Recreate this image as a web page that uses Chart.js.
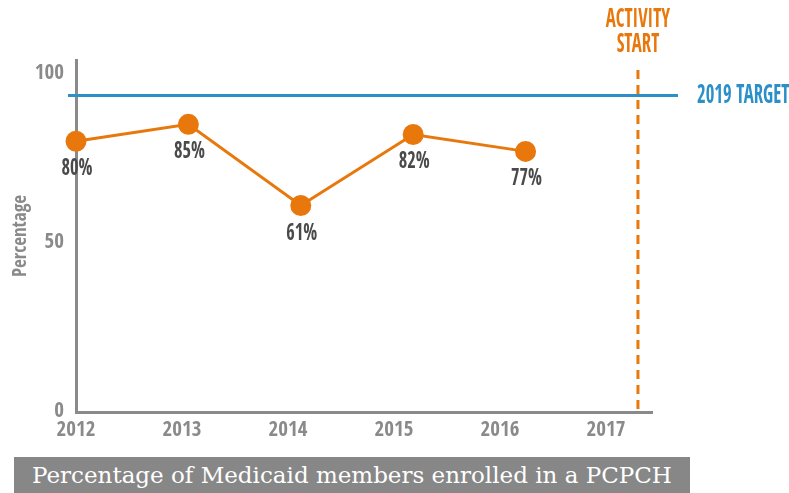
<!DOCTYPE html>
<html>
<head>
<meta charset="utf-8">
<script src="https://cdn.jsdelivr.net/npm/chart.js@4.4.1/dist/chart.umd.min.js"></script>
<style>
  body { margin: 0; background: #fff; width: 789px; height: 493px; position: relative; overflow: hidden; }
  #wrap { position: absolute; left: 0; top: 0; width: 789px; height: 450px; }
  #caption {
    position: absolute; left: 14px; top: 457px; width: 676px; height: 36px;
    background: #878787; color: #fff; text-align: center;
    font-family: "DejaVu Serif", "Liberation Serif", serif; font-size: 23px; line-height: 36px;
  }
</style>
</head>
<body>
<div id="wrap"><canvas id="myChart" width="789" height="450"></canvas></div>
<div id="caption">Percentage of Medicaid members enrolled in a PCPCH</div>
<script>
const years = [2012, 2013, 2014, 2015, 2016];
const enrolled = [80, 85, 61, 82, 77];
const tickYears = [2012, 2013, 2014, 2015, 2016, 2017];
const yTicks = [0, 50, 100];
const target = 93.5;
const activityYear = 2017;

const narrow = '"Open Sans Condensed", "Roboto Condensed", sans-serif';
const grey = "#8a8a8a";
const orange = "#e8770c";
const blue = "#2b8fc8";

// condensed-looking text: draw a bit taller then squeeze horizontally
function squeezed(ctx, text, x, y, size, sx, align) {
  ctx.save();
  ctx.font = "bold " + size + "px " + narrow;
  ctx.textAlign = align;
  ctx.textBaseline = "middle";
  ctx.translate(x, y);
  ctx.scale(sx, 1);
  ctx.fillText(text, 0, 0);
  ctx.restore();
}

const annotations = {
  id: "annotations",
  beforeDatasetsDraw(chart) {
    const { ctx, chartArea, scales } = chart;
    const ty = scales.y.getPixelForValue(target);
    ctx.save();
    ctx.strokeStyle = blue;
    ctx.lineWidth = 3;
    ctx.beginPath();
    ctx.moveTo(chartArea.left - 8, ty);
    ctx.lineTo(chartArea.right + 26, ty);
    ctx.stroke();
    ctx.fillStyle = blue;
    squeezed(ctx, "2019 TARGET", 697, ty + 1, 26, 0.72, "left");

    const ax = scales.x.getPixelForValue(activityYear);
    ctx.strokeStyle = orange;
    ctx.setLineDash([9, 6]);
    ctx.beginPath();
    ctx.moveTo(ax, 70);
    ctx.lineTo(ax, chartArea.bottom);
    ctx.stroke();
    ctx.setLineDash([]);
    ctx.fillStyle = orange;
    squeezed(ctx, "ACTIVITY", ax, 20, 26, 0.72, "center");
    squeezed(ctx, "START", ax, 45, 26, 0.72, "center");
    ctx.restore();
  },
  afterDatasetsDraw(chart) {
    const { ctx } = chart;
    const meta = chart.getDatasetMeta(0);
    ctx.save();
    ctx.fillStyle = "#4a4a4a";
    meta.data.forEach((pt, i) => {
      squeezed(ctx, enrolled[i] + "%", pt.x + 1, pt.y + 28, 23, 0.8, "center");
    });
    ctx.restore();
  },
};

const data = {
  datasets: [
    {
      data: years.map((yr, i) => ({ x: yr, y: enrolled[i] })),
      borderColor: orange,
      backgroundColor: orange,
      borderWidth: 3,
      pointRadius: 9,
      pointHoverRadius: 9,
      xAxisID: "x",
      clip: false,
    },
  ],
};

const config = {
  type: "line",
  data: data,
  options: {
    responsive: false,
    animation: false,
    devicePixelRatio: 1,
    layout: { padding: { top: 60, right: 137, left: 0, bottom: 0 } },
    plugins: {
      legend: { display: false },
      tooltip: { enabled: false },
    },
    scales: {
      x: {
        type: "linear",
        display: false,
        min: 2012,
        max: 2017.125,
      },
      x2: {
        type: "linear",
        position: "bottom",
        min: 2012,
        max: 2017.434,
        afterBuildTicks: (s) => { s.ticks = tickYears.map((v) => ({ value: v })); },
        afterFit: (s) => { s.height = 38; },
        grid: { display: false, drawTicks: false },
        border: { color: grey, width: 3 },
        ticks: {
          padding: 6,
          color: grey,
          font: { family: narrow, size: 21, weight: "bold" },
          callback: (v) => String(v),
        },
      },
      y: {
        min: 0,
        max: 104,
        afterBuildTicks: (s) => { s.ticks = yTicks.map((v) => ({ value: v })); },
        afterFit: (s) => { s.width = 76; },
        grid: { display: false, drawTicks: false },
        border: { color: grey, width: 3 },
        ticks: {
          padding: 12,
          color: grey,
          font: { family: narrow, size: 21, weight: "bold" },
        },
        title: {
          display: true,
          text: "Percentage",
          color: grey,
          padding: { top: 10, bottom: 0 },
          font: { family: narrow, size: 19, weight: "bold" },
        },
      },
    },
  },
  plugins: [annotations],
};

const myChart = new Chart(document.querySelector("#myChart"), config);
</script>
</body>
</html>
